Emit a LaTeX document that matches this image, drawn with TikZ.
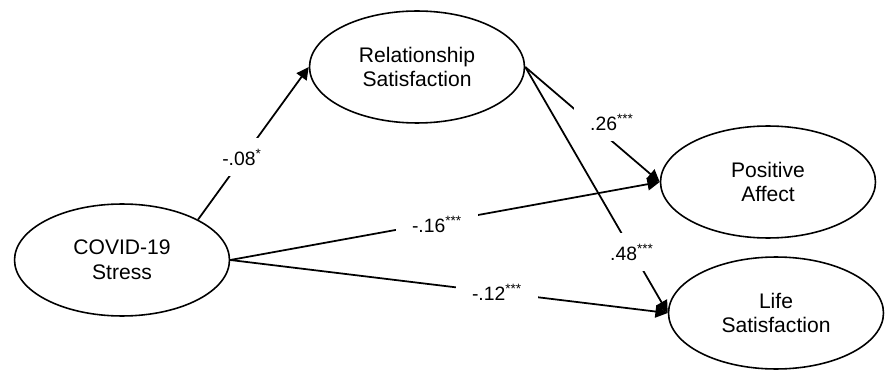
\documentclass[tikz,border=0pt]{standalone}
\usepackage{fontspec}
\setmainfont{Liberation Sans}
\usetikzlibrary{shapes.geometric,arrows.meta}

\begin{document}
\begin{tikzpicture}[x=0.02cm,y=-0.02cm,>={Triangle[length=7pt,width=7pt]},
  latent/.style={draw,ellipse,line width=0.9pt,minimum width=4.3cm,minimum height=2.24cm,
    inner sep=0pt,align=center,font=\fontsize{12}{14}\selectfont},
  path/.style={->,line width=1pt},
  coef/.style={fill=white,inner xsep=9pt,inner ysep=6pt,font=\fontsize{11}{13}\selectfont}]
  \useasboundingbox (0,0) rectangle (885,371);

  % latent variables
  \node[latent] (stress) at (122,260) {COVID-19\\Stress};
  \node[latent] (rel) at (417,67) {Relationship\\Satisfaction};
  \node[latent] (pos) at (768,182) {Positive\\Affect};
  \node[latent] (life) at (776,313) {Life\\Satisfaction};

  % paths
  \draw[path] (stress.28) -- (rel.west);
  \draw[path] (rel.east) -- (pos.west);
  \draw[path] (rel.east) -- (life.west);
  \draw[path] (stress.east) -- (pos.west);
  \draw[path] (stress.east) -- (life.west);

  % coefficients
  \node[coef] (b1) at (242,157) {-.08\textsuperscript{*}};
  \node[coef] (b2) at (612,122) {.26\textsuperscript{***}};
  \node[coef] (b3) at (632,252) {.48\textsuperscript{***}};
  \node[coef] (b4) at (437,224) {-.16\textsuperscript{***}};
  \node[coef] (b5) at (497,292) {-.12\textsuperscript{***}};
\end{tikzpicture}
\end{document}
